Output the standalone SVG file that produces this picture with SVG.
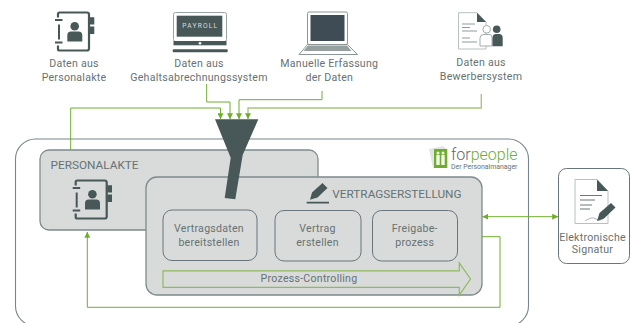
<svg xmlns="http://www.w3.org/2000/svg" width="632" height="323" viewBox="0 0 632 323">
<defs>
<style>
text{font-family:Roboto,"Liberation Sans",sans-serif;font-size:10.6px;fill:#667272;text-anchor:middle;letter-spacing:.25px}
.big{font-size:11.8px;text-anchor:start;letter-spacing:0}
.box{fill:#d9dbdb;stroke:#7f8b8b;stroke-width:1.3}
.inner{fill:#d9dbdb;stroke:#68757a;stroke-width:1}
.line{fill:none;stroke:#6fae2c;stroke-width:1}
.soft{fill:none;stroke:#a5c97c;stroke-width:1.4}
.ic{fill:#485757}
.ol{fill:none;stroke:#485757}
.pg{fill:#fff;stroke:#b9c0c0;stroke-width:1}
</style>
<marker id="ar" viewBox="0 0 6 6" refX="5.800" refY="3" markerWidth="6" markerHeight="6" markerUnits="userSpaceOnUse" orient="auto-start-reverse"><path d="M6 3 0 0V6Z" fill="#6fae2c"/></marker>
<g id="book">
<path class="ol" stroke-width="2.200" d="M3 6V2.500Q3 1 4.500 1H32Q34 1 34 3V37Q34 39 32 39H4.500Q3 39 3 37.500V34"/>
<path class="ic" d="M0 7.500H7.500V9.500H0ZM3 13H5V28H3ZM0 30H7.500V32H0ZM34.500 5.700H39.300V13H34.500ZM34.500 15H39.300V22.500H34.500Z"/>
<circle class="ic" cx="19.700" cy="14.700" r="4.300"/>
<path class="ic" d="M12.300 30V24Q12.300 20 16 20H23.500Q27.300 20 27.300 24V30Z"/>
</g>
</defs>
<rect width="632" height="323" fill="#fff"/>

<g id="container"><rect x="15.500" y="139" width="513" height="187" rx="20" fill="#fff" stroke="#78858a" stroke-width="1.100"/></g>

<g id="personalakte">
<rect class="box" x="40" y="150" width="278" height="80" rx="9"/>
<text class="big" x="50.500" y="168.700">PERSONALAKTE</text>
<use href="#book" x="72.700" y="179.500"/>
</g>

<g id="vertragserstellung">
<rect class="box" x="146" y="177" width="336" height="118" rx="11"/>
<path class="ic" d="M306.700 201.700H329V203.500H306.700ZM310 199.800 312 192.500 322.500 183 327.500 188 317.500 197.500Z"/>
<text class="big" x="332.300" y="197.700">VERTRAGSERSTELLUNG</text>
</g>

<g id="bereitstellen">
<rect class="inner" x="163" y="210" width="94" height="50.500" rx="9"/>
<text x="209" y="232">Vertragsdaten</text><text x="209" y="246">bereitstellen</text>
</g>
<g id="erstellen">
<rect class="inner" x="275" y="210.500" width="86" height="50.500" rx="9"/>
<text x="317.500" y="232">Vertrag</text><text x="317.500" y="246">erstellen</text>
</g>
<g id="freigabe">
<rect class="inner" x="372.500" y="210.500" width="85" height="50.500" rx="9"/>
<text x="414.800" y="232">Freigabe-</text><text x="414.800" y="246">prozess</text>
</g>
<g id="controlling">
<path d="M163 270.800H459.300V263L470.500 279 459.300 295V287.300H163Z" fill="#d9dbdb" stroke="#8dbb5c" stroke-width="1.200"/>
<text x="309" y="282">Prozess-Controlling</text>
</g>

<g id="logo">
<path d="M429 149 443 146 447 149V168H433Z" fill="#e2e5e2"/>
<rect x="434" y="149" width="13.300" height="19" fill="#6fae2c"/>
<circle cx="438" cy="153" r="1.500" fill="#f4f7ee"/><circle cx="443" cy="153" r="1.500" fill="#f4f7ee"/>
<path d="M436.300 155H439.700V165H436.300ZM441.300 155H444.700V165H441.300Z" fill="#f4f7ee"/>
<text x="451" y="159.500" style="font-size:16px;font-weight:300;text-anchor:start;letter-spacing:0"><tspan fill="#5f6b6b">for</tspan><tspan fill="#6fae2c">people</tspan></text>
<text x="451" y="168.500" style="font-size:6.900px;text-anchor:start;letter-spacing:0">Der Personalmanager</text>
</g>

<g id="signatur">
<rect x="558.500" y="168.500" width="71" height="95" rx="8" fill="#fff" stroke="#68757a" stroke-width="1"/>
<path class="pg" d="M575 179.500H597L608 191V223.500H575Z"/>
<path class="ic" d="M597 179.500 608 191H597Z"/>
<path d="M580 195.500H602M580 200H595M580 205H592M580 209H590" fill="none" stroke="#6c7878" stroke-width="1"/>
<path d="M585 221Q592 216 596 219T605 217" fill="none" stroke="#9aa3a3" stroke-width=".8"/>
<path class="ic" d="M597 221 599.500 213 611 203 615.500 207.500 604 218.500Z"/>
<text x="592.500" y="241">Elektronische</text><text x="592.500" y="253">Signatur</text>
</g>

<g id="src-personalakte">
<use href="#book" x="55" y="11.500"/>
<text x="74" y="67.300">Daten aus</text><text x="74" y="80.700">Personalakte</text>
</g>
<g id="src-gehalt">
<rect x="173.500" y="12.500" width="53" height="29" rx="2" fill="#fff" stroke="#9aa3a3"/>
<rect x="176.700" y="15.700" width="45.600" height="21" class="ic"/>
<text x="200.300" y="28" style="font-size:6.700px;fill:#d9dede;letter-spacing:1.200px;font-weight:400">PAYROLL</text>
<rect x="173.500" y="41" width="53" height="4.300" class="ic"/>
<circle cx="200" cy="43.200" r="1.300" fill="#fff"/>
<rect x="172.700" y="49.300" width="55" height="3" rx="1" class="ic"/>
<text x="199" y="67.300">Daten aus</text><text x="199" y="80.700">Gehaltsabrechnungssystem</text>
</g>
<g id="src-manuell">
<rect x="307.500" y="12" width="40" height="32.500" rx="1.500" fill="#fff" stroke="#8b9595"/>
<rect x="310.500" y="15" width="34" height="26" fill="#3f4b55"/>
<path d="M307.500 44.500H347.500L357.500 54.500H299Z" fill="#fff" stroke="#8b9595"/>
<path d="M308 45.500H347L351.500 51H303.500Z" fill="#96a09e"/>
<text x="329.300" y="67.300">Manuelle Erfassung</text><text x="329.300" y="80.700">der Daten</text>
</g>
<g id="src-bewerber">
<path class="pg" d="M458.500 12.700H477L486 22V49H458.500Z"/>
<path class="ic" d="M477 12.700 486 22H477Z"/>
<path d="M462 24H475M462 27.500H470M462 31H477M462 38H470M462 42H477" fill="none" stroke="#909a9a" stroke-width="1"/>
<circle cx="486.700" cy="29.300" r="3.800" fill="#fff" stroke="#a3abab"/>
<path d="M480 46V38Q480 34.500 484 34.500H490Q492 34.500 492 38V46Z" fill="#fff" stroke="#a3abab"/>
<circle cx="496.700" cy="29.300" r="3.800" class="ic"/>
<path d="M492.500 46.300V38Q492.500 34 496 34H499Q502.700 34 502.700 38V46.300Z" class="ic"/>
<text x="481" y="66.300">Daten aus</text><text x="481" y="79.700">Bewerbersystem</text>
</g>

<g id="connectors">
<path class="line" d="M70.700 150V108H220.500V119" marker-end="url(#ar)"/>
<path class="line" d="M206.700 84V102H230V119" marker-end="url(#ar)"/>
<path class="line" d="M322 91V99.700H239V119" marker-end="url(#ar)"/>
<path class="soft" d="M481.300 94V108H248V119" marker-end="url(#ar)"/>
<path class="line" d="M482 236.700H500V307.300H87.300V232" marker-end="url(#ar)"/>
<path class="line" d="M482.500 216.700H558" marker-start="url(#ar)" marker-end="url(#ar)"/>
</g>

<g id="funnel"><path class="ic" d="M215 119.300H258.300L242.700 155 235.300 199.300 224.700 198 230.700 157.700Z"/></g>
</svg>
